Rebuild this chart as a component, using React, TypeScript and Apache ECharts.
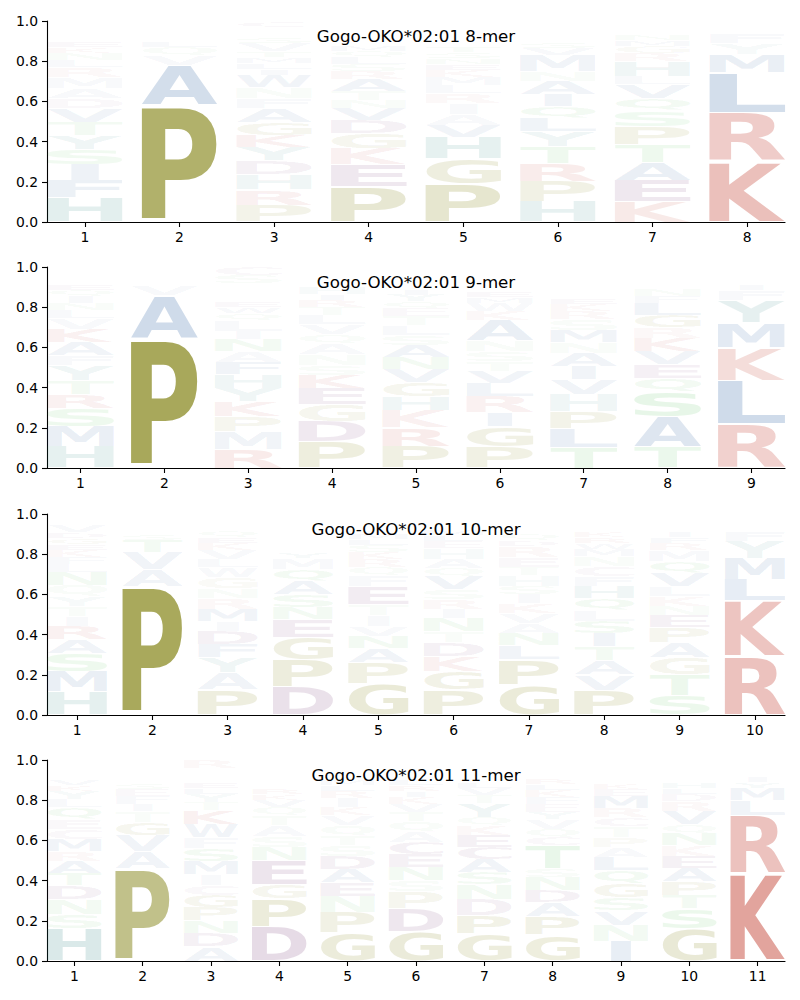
import React, { useEffect, useRef } from "react";
import * as echarts from "echarts";

// ---------- data (letter, probability), stacked bottom -> top ----------
const TITLES = [
  "Gogo-OKO*02:01 8-mer",
  "Gogo-OKO*02:01 9-mer",
  "Gogo-OKO*02:01 10-mer",
  "Gogo-OKO*02:01 11-mer",
];

type Col = [string, number][];

const mer8: Col[] = [
  [["H",.12],["F",.085],["I",.08],["S",.075],["Y",.07],["T",.065],["V",.07],["D",.05],["A",.05],["M",.055],["R",.05],["L",.035],["N",.035],["K",.03],["E",.03],["Q",.025],["G",.025],["C",.02],["W",.015],["P",.015]],
  [["P",.58],["A",.2],["V",.05],["Q",.04],["L",.03],["Y",.025],["T",.02],["S",.02],["G",.015],["I",.015],["M",.005]],
  [["P",.085],["R",.075],["H",.075],["D",.07],["Y",.065],["K",.06],["G",.065],["A",.07],["F",.05],["N",.055],["W",.06],["I",.03],["L",.03],["M",.03],["T",.03],["V",.04],["S",.03],["Q",.025],["E",.025],["C",.03]],
  [["P",.175],["E",.11],["K",.08],["G",.075],["D",.065],["V",.06],["N",.04],["T",.045],["A",.06],["R",.04],["S",.035],["L",.035],["Q",.03],["M",.03],["H",.025],["I",.025],["F",.02],["Y",.02],["W",.015],["C",.015]],
  [["P",.19],["G",.125],["H",.105],["V",.06],["A",.055],["I",.055],["R",.05],["L",.04],["M",.04],["K",.035],["E",.03],["N",.03],["S",.03],["T",.03],["Q",.025],["F",.025],["Y",.025],["W",.015],["C",.015],["D",.02]],
  [["H",.1],["P",.1],["R",.09],["T",.085],["Y",.075],["L",.065],["Q",.06],["I",.06],["A",.065],["N",.05],["M",.08],["V",.035],["S",.03],["G",.025],["K",.025],["E",.02],["F",.02],["W",.015]],
  [["K",.1],["E",.105],["A",.09],["T",.09],["P",.09],["S",.08],["Q",.06],["V",.07],["L",.04],["H",.075],["R",.04],["G",.035],["M",.03],["N",.03],["I",.025],["Y",.02],["D",.02]],
  [["K",.3],["R",.245],["L",.2],["M",.09],["Y",.055],["F",.045],["V",.02],["I",.015],["H",.015],["W",.015]],
];

const mer9: Col[] = [
  [["H",.105],["M",.1],["S",.09],["R",.07],["T",.07],["Y",.075],["F",.05],["A",.065],["K",.065],["V",.055],["L",.04],["N",.035],["I",.035],["Q",.03],["E",.03],["G",.025],["D",.02],["W",.02],["C",.015],["P",.005]],
  [["P",.645],["A",.215],["V",.05],["L",.025],["S",.02],["T",.015],["G",.015],["Q",.015]],
  [["R",.095],["M",.085],["P",.075],["K",.075],["Y",.065],["H",.07],["F",.06],["A",.055],["N",.06],["I",.04],["L",.055],["Q",.035],["W",.03],["E",.03],["G",.025],["T",.025],["V",.02],["D",.02],["S",.04],["C",.04]],
  [["P",.13],["D",.1],["G",.085],["E",.08],["K",.065],["S",.05],["N",.055],["A",.055],["Q",.045],["V",.05],["L",.045],["T",.04],["R",.035],["I",.03],["H",.03],["M",.025],["F",.02],["Y",.02],["W",.02],["C",.02]],
  [["P",.11],["R",.09],["K",.085],["H",.07],["G",.07],["V",.065],["N",.06],["A",.06],["S",.05],["L",.05],["T",.045],["E",.04],["Q",.035],["Y",.03],["I",.03],["M",.025],["F",.025],["D",.02],["C",.02],["W",.02]],
  [["P",.105],["G",.1],["I",.07],["R",.08],["L",.065],["V",.06],["T",.05],["S",.05],["N",.055],["A",.1],["K",.045],["W",.04],["M",.03],["E",.03],["Q",.025],["D",.025],["H",.02],["F",.02],["C",.015],["Y",.015]],
  [["T",.1],["L",.095],["P",.085],["H",.085],["V",.075],["I",.065],["A",.065],["N",.055],["M",.06],["S",.055],["R",.04],["K",.035],["E",.03],["W",.025],["Y",.025],["F",.02],["D",.02],["Q",.02],["C",.02],["G",.025]],
  [["T",.105],["A",.15],["S",.125],["Q",.065],["E",.07],["V",.065],["K",.065],["R",.055],["G",.06],["L",.06],["F",.035],["N",.03],["Y",.025],["I",.02],["H",.015],["M",.01],["D",.01],["P",.01],["C",.005],["W",.02]],
  [["R",.22],["L",.215],["K",.165],["M",.125],["Y",.11],["F",.05],["I",.03],["V",.025],["W",.02],["H",.02],["A",.02]],
];

const mer10: Col[] = [
  [["H",.115],["M",.1],["S",.09],["A",.07],["R",.065],["I",.05],["T",.05],["Y",.05],["Q",.055],["N",.065],["L",.04],["F",.035],["K",.035],["E",.03],["G",.03],["D",.03],["V",.03],["P",.025],["C",.015],["W",.02]],
  [["P",.64],["A",.085],["V",.085],["T",.06],["S",.03],["G",.025],["I",.02],["L",.02],["Q",.015],["Y",.01],["N",.01]],
  [["P",.125],["A",.085],["Y",.075],["F",.065],["D",.065],["I",.05],["M",.06],["R",.055],["N",.05],["G",.055],["W",.05],["L",.04],["V",.045],["K",.035],["E",.03],["Q",.03],["S",.025],["T",.025],["H",.02],["C",.015]],
  [["D",.14],["P",.135],["G",.11],["E",.09],["N",.06],["S",.065],["A",.065],["Q",.06],["M",.055],["Y",.03],["H",.025],["T",.025],["K",.02],["L",.02],["R",.02],["V",.02],["F",.015],["I",.015],["W",.01],["C",.02]],
  [["G",.155],["P",.105],["A",.07],["N",.06],["V",.05],["I",.055],["T",.055],["E",.09],["F",.055],["Q",.04],["R",.04],["K",.035],["S",.035],["L",.03],["M",.03],["H",.025],["D",.025],["Y",.02],["W",.015],["C",.01]],
  [["P",.125],["G",.09],["K",.075],["D",.07],["T",.055],["N",.065],["I",.045],["R",.05],["S",.05],["V",.065],["Q",.04],["A",.045],["H",.055],["E",.035],["L",.03],["M",.03],["F",.025],["Y",.025],["W",.015],["C",.01]],
  [["G",.15],["P",.125],["L",.07],["N",.06],["A",.05],["V",.05],["K",.05],["I",.045],["S",.04],["H",.055],["T",.04],["E",.05],["R",.055],["D",.03],["Q",.03],["M",.025],["F",.02],["Y",.02],["W",.02],["C",.015]],
  [["P",.125],["V",.075],["A",.07],["T",.07],["I",.065],["S",.06],["L",.055],["Q",.06],["H",.06],["F",.05],["C",.05],["N",.05],["M",.035],["W",.03],["R",.03],["K",.03],["Y",.025],["E",.02],["D",.02],["G",.02]],
  [["S",.1],["T",.1],["G",.085],["A",.075],["P",.075],["E",.06],["N",.045],["K",.05],["L",.05],["V",.065],["Q",.06],["M",.055],["R",.035],["F",.03],["I",.03],["H",.025],["Y",.025],["D",.02],["W",.01],["C",.005]],
  [["R",.29],["K",.28],["L",.105],["M",.105],["Y",.085],["F",.045],["I",.025],["V",.02],["W",.02],["H",.025]],
];

const mer11: Col[] = [
  [["H",.16],["S",.07],["N",.075],["D",.07],["T",.06],["A",.06],["R",.05],["M",.06],["C",.05],["E",.05],["Q",.06],["L",.04],["Y",.04],["K",.03],["V",.03],["G",.025],["I",.025],["F",.02],["W",.015],["P",.01]],
  [["P",.46],["A",.085],["V",.08],["G",.065],["T",.055],["I",.035],["F",.04],["E",.035],["S",.03],["L",.025],["Q",.025],["N",.02],["Y",.015],["D",.01],["M",.01],["K",.01]],
  [["A",.07],["D",.07],["N",.06],["P",.065],["G",.06],["C",.05],["I",.055],["M",.065],["S",.065],["F",.055],["W",.065],["K",.07],["T",.04],["Y",.04],["L",.03],["E",.03],["Q",.025],["H",.025],["V",.02],["R",.04]],
  [["D",.17],["P",.14],["G",.07],["E",.12],["N",.065],["S",.055],["A",.055],["T",.05],["Q",.04],["V",.035],["K",.03],["R",.03],["M",.025],["L",.025],["H",.02],["Y",.02],["I",.015],["F",.015],["W",.01],["C",.01]],
  [["G",.14],["P",.1],["N",.08],["E",.07],["A",.065],["D",.065],["S",.055],["T",.05],["Q",.05],["V",.05],["K",.04],["I",.045],["R",.035],["L",.03],["M",.03],["H",.025],["Y",.025],["F",.02],["W",.015],["C",.01]],
  [["G",.145],["D",.115],["P",.085],["S",.055],["N",.065],["E",.065],["C",.06],["A",.055],["Q",.05],["T",.045],["V",.04],["K",.035],["I",.03],["R",.03],["L",.03],["M",.025],["H",.02],["Y",.02],["F",.015],["W",.015]],
  [["G",.135],["P",.09],["D",.08],["N",.075],["S",.06],["A",.065],["C",.06],["E",.06],["K",.05],["Q",.04],["Y",.07],["T",.04],["V",.035],["L",.03],["R",.025],["H",.02],["M",.02],["I",.02],["F",.015],["W",.01]],
  [["G",.13],["P",.09],["A",.07],["D",.06],["N",.065],["S",.045],["T",.115],["C",.04],["Q",.04],["V",.05],["Y",.035],["E",.04],["F",.035],["K",.035],["L",.03],["R",.03],["H",.025],["M",.025],["I",.025],["W",.015]],
  [["I",.1],["N",.08],["V",.07],["S",.065],["G",.07],["Q",.065],["L",.065],["A",.05],["P",.05],["T",.055],["C",.045],["R",.045],["M",.06],["E",.035],["K",.03],["H",.025],["W",.025],["F",.025],["Y",.02],["D",.02]],
  [["G",.16],["S",.1],["T",.065],["P",.07],["A",.065],["E",.06],["K",.055],["N",.06],["Q",.045],["V",.065],["R",.05],["D",.035],["L",.03],["H",.03],["Y",.025],["M",.025],["I",.02],["F",.02],["W",.01],["C",.01]],
  [["K",.435],["R",.29],["L",.075],["M",.06],["Y",.03],["I",.03],["F",.025],["W",.02],["V",.015],["H",.02]],
];

const PANELS = [mer8, mer9, mer10, mer11];

// ---------- styling ----------
const LETTERS = "ACDEFGHIKLMNPQRSTVWY";
const COLOR_GROUPS: [string, [number, number, number]][] = [
  ["DEC", [107, 41, 107]],
  ["PG", [120, 120, 0]],
  ["MIWALFV", [33, 89, 156]],
  ["NTSQ", [64, 186, 71]],
  ["RK", [189, 46, 31]],
  ["YH", [23, 120, 117]],
];
function letterRGB(l: string): [number, number, number] {
  for (const [g, c] of COLOR_GROUPS) if (g.includes(l)) return c;
  return [0, 0, 0];
}

const GRID_TOPS = [21, 267, 514, 760];
const GRID_H = 201;
const GRID_LEFT = 47;
const GRID_W = 738;
const GLYPH_W = 0.8;
const VPAD = 0.05;
const MAX_STRETCH_CHAR = "E";
const FONT_FAMILY = "DejaVu Sans";
const BASE_SIZE = 100;
const GLYPH_FONT = `bold ${BASE_SIZE}px "${FONT_FAMILY}"`;

type Metric = { l: number; r: number; a: number; d: number };

// distance (px, at BASE_SIZE) of the SVG "central" baseline above the alphabetic one
function centralOffset(): number {
  try {
    const ns = "http://www.w3.org/2000/svg";
    const svg = document.createElementNS(ns, "svg");
    svg.setAttribute("width", "300");
    svg.setAttribute("height", "300");
    svg.setAttribute("style", "position:absolute;left:-1000px;top:-1000px;visibility:hidden");
    const mk = (central: boolean) => {
      const t = document.createElementNS(ns, "text");
      t.setAttribute("x", "0");
      t.setAttribute("y", "150");
      if (central) t.setAttribute("dominant-baseline", "central");
      t.setAttribute("style", `font: ${GLYPH_FONT}`);
      t.textContent = "P";
      svg.appendChild(t);
      return t;
    };
    const t1 = mk(true);
    const t2 = mk(false);
    document.body.appendChild(svg);
    const c = t1.getBBox().y - t2.getBBox().y;
    document.body.removeChild(svg);
    if (isFinite(c) && c > 0 && c < BASE_SIZE) return c;
  } catch (e) {
    // ignore
  }
  return 0.36 * BASE_SIZE;
}

function measureLetters(): Record<string, Metric> {
  const out: Record<string, Metric> = {};
  const c = document.createElement("canvas");
  const ctx = c.getContext("2d");
  const cen = centralOffset();
  for (const L of LETTERS) {
    let m: Metric = { l: -4, r: 72, a: 36, d: 36 };
    if (ctx) {
      ctx.font = GLYPH_FONT;
      ctx.textAlign = "left";
      ctx.textBaseline = "alphabetic";
      const t = ctx.measureText(L);
      if (t.actualBoundingBoxRight !== undefined) {
        // local coords: zrender's y=0 is the central baseline; alphabetic baseline sits at +cen
        m = {
          l: t.actualBoundingBoxLeft,
          r: t.actualBoundingBoxRight,
          a: t.actualBoundingBoxAscent - cen,
          d: t.actualBoundingBoxDescent + cen,
        };
      }
    }
    out[L] = m;
  }
  return out;
}

export default function App() {
  const ref = useRef<HTMLDivElement>(null);
  useEffect(() => {
    if (!ref.current) return;
    const chart = echarts.init(ref.current, undefined, { renderer: "svg" });
    const metrics = measureLetters();
    const eMetric = metrics[MAX_STRETCH_CHAR];
    const eInkW = eMetric.l + eMetric.r;

    const grids = GRID_TOPS.map((top) => ({
      left: GRID_LEFT,
      top,
      width: GRID_W,
      height: GRID_H,
      containLabel: false,
    }));

    const axisLineStyle = { color: "#000", width: 1.1 };
    const labelStyle = {
      color: "#000",
      fontSize: 13.9,
      fontFamily: FONT_FAMILY,
    };

    const xAxes = PANELS.map((cols, i) => {
      const ticks = cols.map((_, j) => j + 1);
      return {
        gridIndex: i,
        type: "value",
        min: 0.6,
        max: cols.length + 0.4,
        axisLine: { show: true, onZero: false, lineStyle: axisLineStyle },
        axisTick: {
          show: true,
          length: 5,
          lineStyle: axisLineStyle,
          customValues: ticks,
        },
        axisLabel: { ...labelStyle, margin: 8, customValues: ticks },
        splitLine: { show: false },
      };
    });

    const yAxes = PANELS.map((_, i) => ({
      gridIndex: i,
      type: "value",
      min: 0,
      max: 1,
      interval: 0.2,
      axisLine: { show: true, onZero: false, lineStyle: axisLineStyle },
      axisTick: { show: true, length: 5, lineStyle: axisLineStyle },
      axisLabel: {
        ...labelStyle,
        margin: 9,
        formatter: (v: number) => v.toFixed(1),
      },
      splitLine: { show: false },
    }));

    const series = PANELS.map((cols, i) => {
      const data: number[][] = [];
      cols.forEach((col, j) => {
        let cum = 0;
        for (const [L, v] of col) {
          data.push([j + 1, cum, cum + v, LETTERS.indexOf(L), v]);
          cum += v;
        }
      });
      return {
        type: "custom",
        xAxisIndex: i,
        yAxisIndex: i,
        silent: true,
        clip: false,
        encode: { x: 0, y: [1, 2] },
        data,
        renderItem: (_p: any, api: any) => {
          const pos = api.value(0);
          const y0 = api.value(1);
          const y1 = api.value(2);
          const L = LETTERS[api.value(3)];
          const p = api.value(4);
          const h = y1 - y0;
          const b = y0 + (h * VPAD) / 2;
          const t = y1 - (h * VPAD) / 2;
          const lb = api.coord([pos - GLYPH_W / 2, b]);
          const rt = api.coord([pos + GLYPH_W / 2, t]);
          const boxW = rt[0] - lb[0];
          const cx = (rt[0] + lb[0]) / 2;
          const m = metrics[L];
          const inkW = m.l + m.r;
          // narrow glyphs are stretched no more than the reference character
          const sx = Math.min(boxW / inkW, boxW / eInkW);
          const sy = (lb[1] - rt[1]) / (m.a + m.d);
          const inkLeft = cx - (inkW * sx) / 2;
          const [r, g, bl] = letterRGB(L);
          return {
            type: "text",
            x: inkLeft + m.l * sx,
            y: rt[1] + m.a * sy,
            scaleX: sx,
            scaleY: sy,
            silent: true,
            style: {
              text: L,
              x: 0,
              y: 0,
              fontSize: BASE_SIZE,
              fontWeight: "bold",
              fontFamily: FONT_FAMILY,
              align: "left",
              verticalAlign: "middle",
              fill: `rgba(${r},${g},${bl},${Math.min(1, p)})`,
            },
          };
        },
      };
    });

    const graphic = TITLES.map((t, i) => ({
      type: "text",
      x: GRID_LEFT + GRID_W / 2,
      y: GRID_TOPS[i] + 15.5,
      z: 100,
      silent: true,
      style: {
        text: t,
        align: "center",
        verticalAlign: "middle",
        fontSize: 16.67,
        fontFamily: FONT_FAMILY,
        fill: "#000",
      },
    }));

    chart.setOption({
      animation: false,
      backgroundColor: "#fff",
      grid: grids,
      xAxis: xAxes,
      yAxis: yAxes,
      series,
      graphic,
    } as any);

    return () => chart.dispose();
  }, []);

  return (
    <div
      ref={ref}
      style={{ position: "absolute", left: 0, top: 0, width: 800, height: 1000 }}
    />
  );
}
